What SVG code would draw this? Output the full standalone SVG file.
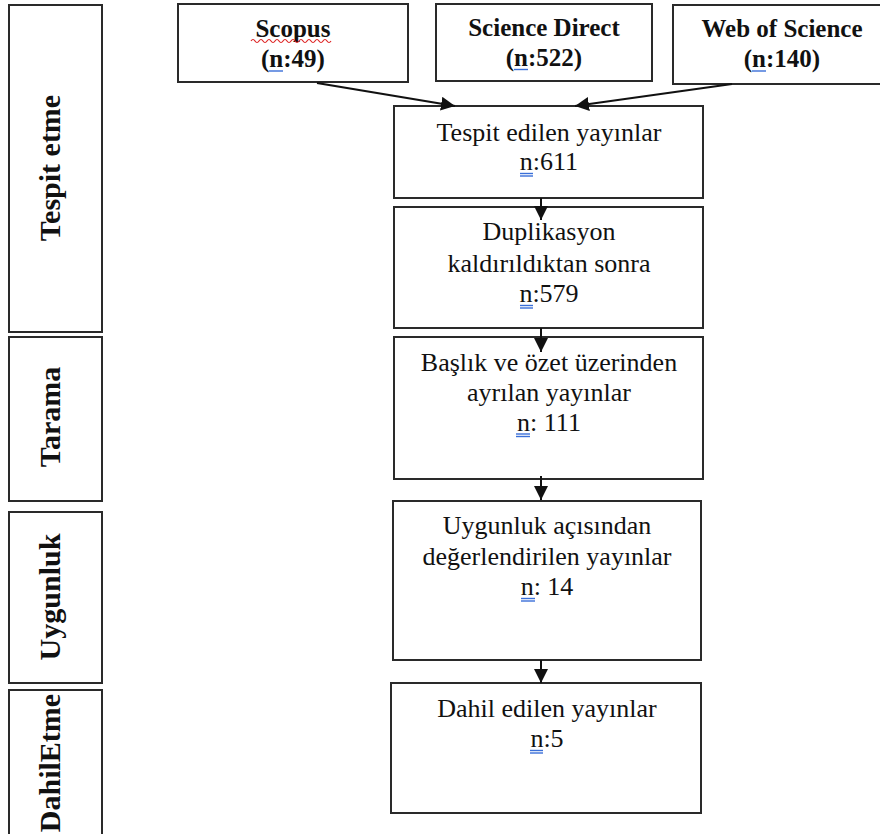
<svg xmlns="http://www.w3.org/2000/svg" width="880" height="834" viewBox="0 0 880 834">
<style>
.box{fill:#fff;stroke:#2a2a2a;stroke-width:2}
.t{font-family:"Liberation Serif","Times New Roman",serif;font-size:26px;fill:#111;text-anchor:middle}
.b{font-weight:bold;font-size:25px}
.lab{font-family:"Liberation Serif","Times New Roman",serif;font-size:30px;font-weight:bold;fill:#111;text-anchor:middle}
.con{stroke:#111;stroke-width:2;fill:none}
.ul{stroke:#3a6fd8;stroke-width:1.4}
</style>
<defs>
<marker id="ah" markerUnits="userSpaceOnUse" markerWidth="15" markerHeight="15" refX="14" refY="7" orient="auto">
<path d="M0,0 L14,7 L0,14 z" fill="#111"/>
</marker>
</defs>
<rect width="880" height="834" fill="#fff"/>

<g id="stage-tespit"><rect class="box" x="9" y="5" width="93" height="327"/><text class="lab" transform="translate(60,168) rotate(-90)">Tespit etme</text></g>
<g id="stage-tarama"><rect class="box" x="9" y="337" width="93" height="164"/><text class="lab" transform="translate(60,417) rotate(-90)">Tarama</text></g>
<g id="stage-uygunluk"><rect class="box" x="9" y="512" width="93" height="171"/><text class="lab" transform="translate(60,597) rotate(-90)">Uygunluk</text></g>
<g id="stage-dahil"><rect class="box" x="9" y="690" width="93" height="160"/><text class="lab" transform="translate(60,763) rotate(-90)">DahilEtme</text></g>

<g id="scopus"><rect class="box" x="178" y="4" width="230" height="78"/>
<text class="t b" x="293" y="37">Scopus</text><text class="t b" x="293" y="67">(n:49)</text>
<path d="M251,41 q2,-3 4,0 t4,0 t4,0 t4,0 t4,0 t4,0 t4,0 t4,0 t4,0 t4,0 t4,0 t4,0 t4,0 t4,0 t4,0 t4,0 t4,0 t4,0 t4,0 t4,0" fill="none" stroke="#d22" stroke-width="1.2"/>
<line class="ul" x1="269" y1="71" x2="283" y2="71"/></g>
<g id="sciencedirect"><rect class="box" x="436" y="4" width="216" height="77"/>
<text class="t b" x="544" y="36">Science Direct</text><text class="t b" x="544" y="66">(n:522)</text>
<line class="ul" x1="514" y1="69.5" x2="528" y2="69.5"/></g>
<g id="webofscience"><rect class="box" x="673" y="5" width="222" height="79"/>
<text class="t b" x="782" y="37">Web of Science</text><text class="t b" x="782" y="67">(n:140)</text>
<line class="ul" x1="752" y1="71" x2="766" y2="71"/></g>

<g id="tespit"><rect class="box" x="394" y="106" width="309" height="92"/>
<text class="t" x="549" y="141">Tespit edilen yayınlar</text><text class="t" x="549" y="170">n:611</text>
<line class="ul" x1="520" y1="173.5" x2="533" y2="173.5"/><line class="ul" x1="520" y1="176" x2="533" y2="176"/></g>
<g id="duplikasyon"><rect class="box" x="394" y="207" width="309" height="121"/>
<text class="t" x="549" y="240">Duplikasyon</text><text class="t" x="549" y="272">kaldırıldıktan sonra</text><text class="t" x="549" y="302">n:579</text>
<line class="ul" x1="520" y1="305.5" x2="533" y2="305.5"/><line class="ul" x1="520" y1="308" x2="533" y2="308"/></g>
<g id="baslik"><rect class="box" x="394" y="337" width="309" height="142"/>
<text class="t" x="549" y="371">Başlık ve özet üzerinden</text><text class="t" x="549" y="401">ayrılan yayınlar</text><text class="t" x="549" y="431">n: 111</text>
<line class="ul" x1="516" y1="434" x2="530" y2="434"/><line class="ul" x1="516" y1="436.5" x2="530" y2="436.5"/></g>
<g id="uygunluk"><rect class="box" x="393" y="501" width="308" height="159"/>
<text class="t" x="547" y="534">Uygunluk açısından</text><text class="t" x="547" y="565">değerlendirilen yayınlar</text><text class="t" x="547" y="595">n: 14</text>
<line class="ul" x1="521" y1="598.5" x2="535" y2="598.5"/><line class="ul" x1="521" y1="601" x2="535" y2="601"/></g>
<g id="dahil"><rect class="box" x="391" y="683" width="310" height="130"/>
<text class="t" x="547" y="717">Dahil edilen yayınlar</text><text class="t" x="547" y="747">n:5</text>
<line class="ul" x1="530" y1="750.5" x2="543" y2="750.5"/><line class="ul" x1="530" y1="753" x2="543" y2="753"/></g>

<g id="connectors">
<line class="con" x1="317" y1="83" x2="455" y2="106" marker-end="url(#ah)"/>
<line class="con" x1="732" y1="84" x2="575" y2="106" marker-end="url(#ah)"/>
<line class="con" x1="541" y1="198" x2="541" y2="220" marker-end="url(#ah)"/>
<line class="con" x1="541" y1="328" x2="541" y2="352" marker-end="url(#ah)"/>
<line class="con" x1="541" y1="476" x2="541" y2="500" marker-end="url(#ah)"/>
<line class="con" x1="541" y1="660" x2="541" y2="683" marker-end="url(#ah)"/>
</g>
</svg>
